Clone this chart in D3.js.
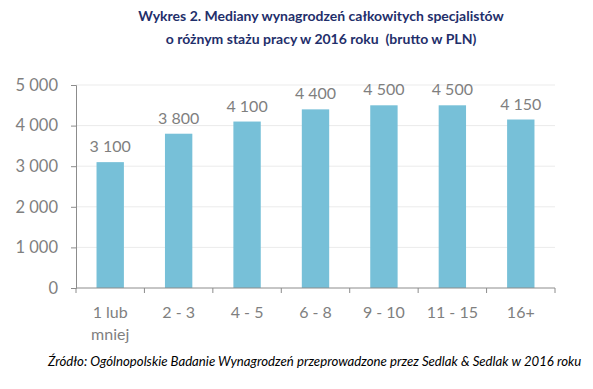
<!DOCTYPE html>
<html><head><meta charset="utf-8">
<script src="https://cdn.jsdelivr.net/npm/d3@7"></script>
<style>body{margin:0;background:#fff}</style>
</head><body>
<svg id="c" width="593" height="389"></svg>
<script>
const categories = [["1 lub","mniej"],["2 - 3"],["4 - 5"],["6 - 8"],["9 - 10"],["11 - 15"],["16+"]];
const values = [3100, 3800, 4100, 4400, 4500, 4500, 4150];
const yTicks = [0, 1000, 2000, 3000, 4000, 5000];
const titleLines = ["Wykres 2. Mediany wynagrodzeń całkowitych specjalistów", "o różnym stażu pracy w 2016 roku  (brutto w PLN)"];
const source = "Źródło: Ogólnopolskie Badanie Wynagrodzeń przeprowadzone przez Sedlak & Sedlak w 2016 roku";

(function() {
const svg = d3.select("#c");
const font = "Lato, 'Open Sans', sans-serif";
const mLeft = 76, mRight = 555, mTop = 85, mBottom = 288;
const fmt = v => d3.format(",")(v).replace(/,/g, " ");

const x = d3.scaleBand().domain(d3.range(categories.length)).range([mLeft, mRight]).paddingInner(0.6).paddingOuter(0.3);
const y = d3.scaleLinear().domain([0, 5000]).range([mBottom, mTop]);

svg.append("g").selectAll("line").data(yTicks.slice(1)).join("line")
  .attr("x1", mLeft).attr("x2", mRight).attr("y1", d => y(d)).attr("y2", d => y(d))
  .attr("stroke", "#ebebeb").attr("stroke-width", 1);

svg.append("g").selectAll("rect").data(values).join("rect")
  .attr("x", (d, i) => x(i)).attr("width", x.bandwidth())
  .attr("y", d => y(d)).attr("height", d => mBottom - y(d))
  .attr("fill", "#77c0d8");

svg.append("g").selectAll("text").data(values).join("text")
  .attr("x", (d, i) => x(i) + x.bandwidth() / 2).attr("y", d => y(d) - 10)
  .attr("text-anchor", "middle").attr("font-family", font).attr("font-size", 16)
  .attr("fill", "#7f7f7f").text(d => fmt(d));

const ya = svg.append("g").attr("transform", `translate(${mLeft},0)`)
  .call(d3.axisLeft(y).tickValues(yTicks).tickFormat(fmt).tickSize(5).tickPadding(13));
ya.select(".domain").attr("stroke", "#8c8c8c");
ya.selectAll(".tick line").attr("stroke", "#8c8c8c");
ya.selectAll("text").attr("font-family", font).attr("font-size", 16.5).attr("fill", "#7f7f7f");

const n = categories.length;
const xa = svg.append("g").attr("transform", `translate(0,${mBottom})`);
xa.append("line").attr("x1", mLeft).attr("x2", mRight).attr("stroke", "#8c8c8c");
xa.selectAll(".tk").data(d3.range(n + 1)).join("line")
  .attr("x1", i => mLeft + i * (mRight - mLeft) / n)
  .attr("x2", i => mLeft + i * (mRight - mLeft) / n)
  .attr("y1", 0).attr("y2", 5).attr("stroke", "#8c8c8c");
xa.selectAll(".lbl").data(categories).join("text")
  .attr("font-family", font).attr("font-size", 16).attr("fill", "#7f7f7f")
  .attr("text-anchor", "middle")
  .each(function(d, i) {
    const t = d3.select(this);
    d.forEach((line, j) => t.append("tspan").attr("x", x(i) + x.bandwidth() / 2).attr("y", 30 + j * 22).text(line));
  });

svg.append("g").selectAll("text").data(titleLines).join("text")
  .attr("x", 321).attr("y", (d, i) => 21 + i * 23).attr("text-anchor", "middle")
  .attr("font-family", font).attr("font-weight", "bold").attr("font-size", 14)
  .style("white-space", "pre")
  .attr("fill", "#1f2f6b").text(d => d);

svg.append("text").attr("x", 48).attr("y", 366).attr("font-family", font)
  .attr("font-style", "italic").attr("font-size", 13.2).attr("fill", "#000").text(source);
})();
</script>
</body></html>
